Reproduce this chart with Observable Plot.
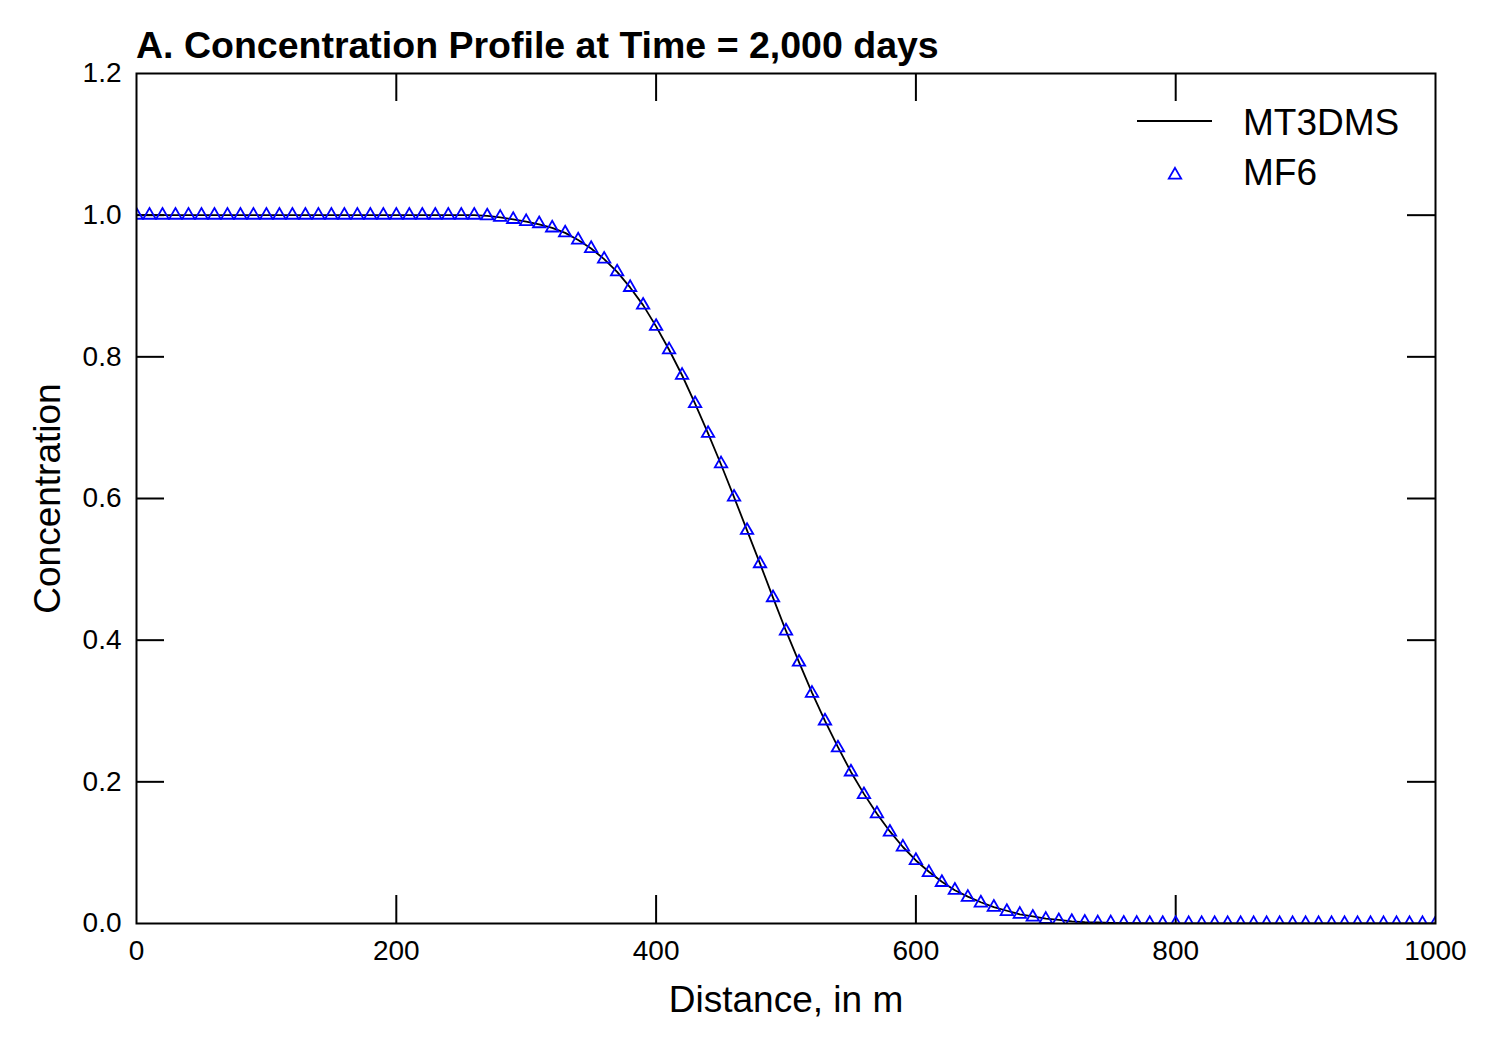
<!DOCTYPE html>
<html>
<head>
<meta charset="utf-8">
<script src="https://cdn.jsdelivr.net/npm/d3@7"></script>
<script src="https://cdn.jsdelivr.net/npm/@observablehq/plot@0.6"></script>
<style>
  html, body { margin: 0; padding: 0; background: #fff; }
  body { width: 1497px; height: 1047px; position: relative; overflow: hidden; font-family: "Liberation Sans", Arial, sans-serif; }
  #title { box-sizing: border-box; height: 63px; padding-top: 27px; padding-left: 136px; font-size: 37.5px; line-height: 37px; font-weight: bold; color: #000; white-space: nowrap; }
  #legend { position: absolute; left: 1120px; top: 90px; }
</style>
</head>
<body>
<div id="title">A. Concentration Profile at Time = 2,000 days</div>
<div id="chart"></div>
<svg id="legend" width="300" height="120" xmlns="http://www.w3.org/2000/svg"></svg>
<script>
// ---- data ----
const distance = [0,10,20,30,40,50,60,70,80,90,100,110,120,130,140,150,160,170,180,190,200,210,220,230,240,250,260,270,280,290,300,310,320,330,340,350,360,370,380,390,400,410,420,430,440,450,460,470,480,490,500,510,520,530,540,550,560,570,580,590,600,610,620,630,640,650,660,670,680,690,700,710,720,730,740,750,760,770,780,790,800,810,820,830,840,850,860,870,880,890,900,910,920,930,940,950,960,970,980,990,1000];

const mf6Conc = [1,1,1,1,1,1,1,1,1,1,1,1,1,1,1,1,1,1,1,1,1,1,1,1,1,1,1,
  0.999,0.997,0.994,0.991,0.988,0.982,0.975,0.965,0.953,0.938,
  0.920,0.898,0.873,0.843,0.810,0.774,0.734,0.692,0.649,0.602,
  0.555,0.508,0.460,0.413,0.369,0.325,0.286,0.248,0.214,0.182,
  0.155,0.129,0.108,0.089,0.072,0.058,0.047,0.037,0.029,0.023,
  0.017,0.013,0.009,0.006,0.004,0.003,0.002,0.001,0.001,0.0005,
  0.0003,0.0002,0.0001,
  0,0,0,0,0,0,0,0,0,0,0,0,0,0,0,0,0,0,0,0,0];

const mt3dmsConc = [1,1,1,1,1,1,1,1,1,1,1,1,1,1,1,1,1,1,1,1,1,1,1,1,1,1,1,
  0.999,0.997,0.994,0.991,0.987,0.982,0.975,0.965,0.953,0.938,
  0.920,0.898,0.873,0.843,0.810,0.774,0.734,0.692,0.648,0.602,
  0.555,0.508,0.460,0.413,0.369,0.326,0.286,0.249,0.214,0.183,
  0.155,0.130,0.108,0.089,0.073,0.059,0.047,0.038,0.030,0.023,
  0.018,0.013,0.010,0.007,0.005,0.003,0.002,0.0015,0.001,0.0006,
  0.0004,0.0002,0.0001,
  0,0,0,0,0,0,0,0,0,0,0,0,0,0,0,0,0,0,0,0,0];

const xTickLabels = [0, 200, 400, 600, 800, 1000];
const yTickLabels = [0, 0.2, 0.4, 0.6, 0.8, 1.0, 1.2];
const xInnerTicks = [200, 400, 600, 800];
const yInnerTicks = [0.2, 0.4, 0.6, 0.8, 1.0];
const seriesNames = ["MT3DMS", "MF6"];

const mt3dms = distance.map((d, i) => ({x: d, c: mt3dmsConc[i]}));
const mf6 = distance.map((d, i) => ({x: d, c: mf6Conc[i]}));

// ---- layout ----
const W = 1497, H = 984;
const mL = 136, mR = 62, mT = 10, mB = 124;
const plotW = W - mL - mR, plotH = H - mT - mB;
const tickLen = 28;
const FONT = "Liberation Sans, Arial, sans-serif";

const chart = Plot.plot({
  width: W,
  height: H,
  marginLeft: mL,
  marginRight: mR,
  marginTop: mT,
  marginBottom: mB,
  style: {fontFamily: FONT, background: "#fff", color: "#000", overflow: "visible"},
  x: {domain: [0, 1000]},
  y: {domain: [0, 1.2]},
  marks: [
    Plot.axisX({ticks: xTickLabels, tickSize: 0, tickPadding: 17, fontSize: 28, label: null, tickFormat: d3.format("d")}),
    Plot.axisY({ticks: yTickLabels, tickSize: 0, tickPadding: 15, fontSize: 28, label: null, tickFormat: d3.format(".1f")}),
    // inward ticks on all four sides
    Plot.tickX(xInnerTicks, {x: d => d, insetTop: plotH - tickLen, stroke: "#000", strokeWidth: 2}),
    Plot.tickX(xInnerTicks, {x: d => d, insetBottom: plotH - tickLen, stroke: "#000", strokeWidth: 2}),
    Plot.tickY(yInnerTicks, {y: d => d, insetRight: plotW - tickLen, stroke: "#000", strokeWidth: 2}),
    Plot.tickY(yInnerTicks, {y: d => d, insetLeft: plotW - tickLen, stroke: "#000", strokeWidth: 2}),
    Plot.line(mt3dms, {x: "x", y: "c", stroke: "#000", strokeWidth: 1.8, clip: true}),
    Plot.dot(mf6, {x: "x", y: "c", symbol: "triangle", r: 4.6, stroke: "#0000ff", strokeWidth: 1.8, fill: "none", clip: true}),
    Plot.frame({stroke: "#000", strokeWidth: 2}),
    Plot.text(["Distance, in m"], {frameAnchor: "bottom", dy: 88, lineAnchor: "bottom", textAnchor: "middle", fontSize: 37, fill: "#000"}),
    Plot.text(["Concentration"], {frameAnchor: "left", dx: -77, rotate: -90, lineAnchor: "bottom", textAnchor: "middle", fontSize: 37, fill: "#000"})
  ]
});
document.getElementById("chart").appendChild(chart);

// ---- legend (top-right, inside the axes) ----
const lg = d3.select("#legend");
lg.append("line").attr("x1", 17).attr("x2", 92).attr("y1", 31).attr("y2", 31)
  .attr("stroke", "#000").attr("stroke-width", 2);
lg.append("text").attr("x", 123).attr("y", 45).attr("font-size", 37).attr("font-family", FONT)
  .attr("fill", "#000").text(seriesNames[0]);
lg.append("path").attr("d", d3.symbol(d3.symbolTriangle, 4.6 * 4.6 * Math.PI)())
  .attr("transform", "translate(55,85)")
  .attr("fill", "none").attr("stroke", "#0000ff").attr("stroke-width", 1.8);
lg.append("text").attr("x", 123).attr("y", 95).attr("font-size", 37).attr("font-family", FONT)
  .attr("fill", "#000").text(seriesNames[1]);
</script>
</body>
</html>
